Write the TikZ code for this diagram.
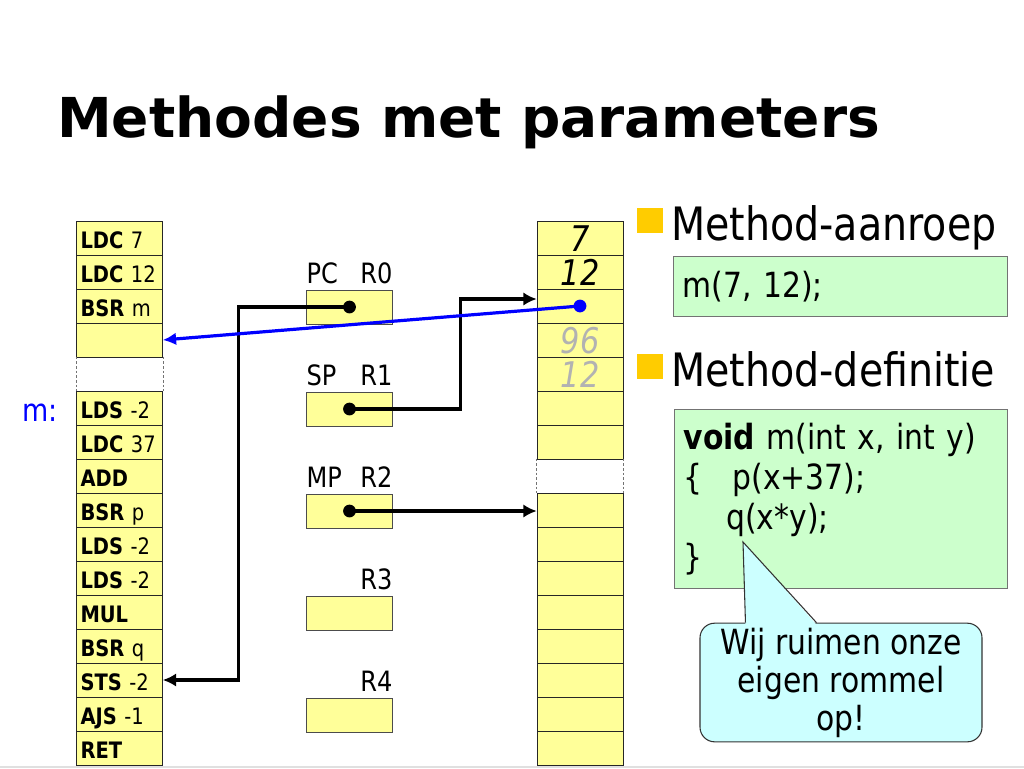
\documentclass[tikz,border=0pt]{standalone}
\usepackage{fontspec}
\setmainfont{DejaVu Sans}[FakeStretch=0.86]
\newfontfamily\titlefont{DejaVu Sans}
\usetikzlibrary{positioning,arrows.meta}
\definecolor{cellyellow}{HTML}{FFFF99}
\definecolor{codegreen}{HTML}{CCFFCC}
\definecolor{notecyan}{HTML}{CCFFFF}
\definecolor{bulletorange}{HTML}{FFCC00}
\definecolor{ptrblue}{HTML}{0000FF}

\begin{document}
\begin{tikzpicture}[x=0.75pt,y=-0.75pt,node distance=25.5pt,on grid,
        cell/.style={draw=black!85,fill=cellyellow,minimum width=64.5pt,minimum height=25.5pt,
            text width=58.5pt,inner xsep=3pt,inner ysep=0pt,align=left,text height=15pt,text depth=0pt,
            font=\fontsize{17}{20}\selectfont},
        gapcell/.style={minimum width=64.5pt,minimum height=25.5pt,inner sep=0pt},
        gapside/.style={draw=black!55,dash pattern=on 2pt off 1.5pt},
        stk/.style={draw=black!85,fill=cellyellow,minimum width=64.5pt,minimum height=25.5pt,inner sep=0pt,
            text height=19.5pt,text depth=0pt,font=\itshape\fontsize{26.5}{27}\selectfont},
        old/.style={stk,text=black!30},
        reg/.style={draw=black!70,fill=cellyellow,minimum width=64.5pt,minimum height=25.5pt},
        reglabel/.style={anchor=south,text width=64.5pt,inner sep=0pt,align=left,font=\fontsize{21}{22}\selectfont},
        ptr/.style={line width=2.8pt,-{Latex[length=10pt,width=10pt]}},
        blueptr/.style={draw=ptrblue,line width=2.4pt,-{Latex[length=10pt,width=9.5pt]}},
        bullet/.style={fill=bulletorange,minimum size=19pt,inner sep=0pt},
        head/.style={anchor=base west,inner sep=0pt,font=\fontsize{34.5}{38}\selectfont},
        code/.style={draw=black!55,fill=codegreen,anchor=north west,align=left,inner xsep=7pt,
            font=\fontsize{26}{30}\selectfont},
        note/.style={draw=black!80,line width=0.8pt,fill=notecyan,rounded corners=11pt,minimum width=211.5pt,
            minimum height=89pt,align=center,font=\fontsize{26}{28.5}\selectfont}]
        \useasboundingbox (0,0) rectangle (1024,768);
        \draw[black!12,line width=1.5pt] (0,767) -- (1024,767);
        \node[anchor=base west,inner sep=0pt,font=\titlefont\bfseries\fontsize{41.25}{45}\selectfont] (title) at (57,137) {Methodes met parameters};

        \node[cell] (ldc7) at (119.5,238) {\textbf{LDC} 7};
        \node[cell,below=of ldc7] (ldc12) {\textbf{LDC} 12};
        \node[cell,below=of ldc12] (bsrm) {\textbf{BSR} m};
        \node[cell,below=of bsrm] (back) {};
        \node[gapcell,below=of back] (gapL) {};
        \node[cell,below=of gapL] (ldsx) {\textbf{LDS} -2};
        \node[cell,below=of ldsx] (ldc37) {\textbf{LDC} 37};
        \node[cell,below=of ldc37] (add) {\textbf{ADD}};
        \node[cell,below=of add] (bsrp) {\textbf{BSR} p};
        \node[cell,below=of bsrp] (ldsy) {\textbf{LDS} -2};
        \node[cell,below=of ldsy] (ldsz) {\textbf{LDS} -2};
        \node[cell,below=of ldsz] (mul) {\textbf{MUL}};
        \node[cell,below=of mul] (bsrq) {\textbf{BSR} q};
        \node[cell,below=of bsrq] (sts) {\textbf{STS} -2};
        \node[cell,below=of sts] (ajs) {\textbf{AJS} -1};
        \node[cell,below=of ajs] (ret) {\textbf{RET}};
        \draw[gapside] (gapL.north west) -- (gapL.south west) (gapL.north east) -- (gapL.south east);
        \node[anchor=base east,inner sep=0pt,text=ptrblue,font=\fontsize{23.5}{26}\selectfont] (mlabel) at (58,421) {m:};

        \node[stk] (s1) at (580,238) {7};
        \node[stk,below=of s1] (s2) {12};
        \node[stk,below=of s2] (s3) {};
        \node[old,below=of s3] (s4) {96};
        \node[old,below=of s4] (s5) {12};
        \node[stk,below=of s5] (s6) {};
        \node[stk,below=of s6] (s7) {};
        \node[gapcell,below=of s7] (gapR) {};
        \node[stk,below=of gapR] (s9) {};
        \node[stk,below=of s9] (s10) {};
        \node[stk,below=of s10] (s11) {};
        \node[stk,below=of s11] (s12) {};
        \node[stk,below=of s12] (s13) {};
        \node[stk,below=of s13] (s14) {};
        \node[stk,below=of s14] (s15) {};
        \node[stk,below=of s15] (s16) {};
        \draw[gapside] (gapR.north west) -- (gapR.south west) (gapR.north east) -- (gapR.south east);

        \node[reg] (r0) at (349.5,307) {};
        \node[reg,below=76.5pt of r0] (r1) {};
        \node[reg,below=76.5pt of r1] (r2) {};
        \node[reg,below=76.5pt of r2] (r3) {};
        \node[reg,below=76.5pt of r3] (r4) {};
        \node[reglabel] (lr0) at ([yshift=4.5pt]r0.north) {PC\hfill R0};
        \node[reglabel] (lr1) at ([yshift=4.5pt]r1.north) {SP\hfill R1};
        \node[reglabel] (lr2) at ([yshift=4.5pt]r2.north) {MP\hfill R2};
        \node[reglabel] (lr3) at ([yshift=4.5pt]r3.north) {\null\hfill R3};
        \node[reglabel] (lr4) at ([yshift=4.5pt]r4.north) {\null\hfill R4};

        \draw[ptr] (r0.center) -- ++(-111,0) |- (sts.east);
        \draw[ptr] (r1.center) -- ++(111,0) |- ([yshift=5.25pt]s3.west);
        \draw[ptr] (r2.center) -- (r2.center -| s9.west);
        \fill (r0.center) circle (4.8pt);
        \fill (r1.center) circle (4.8pt);
        \fill (r2.center) circle (4.8pt);
        \draw[blueptr] (s3.center) -- (back.east);
        \fill[ptrblue] (s3.center) circle (4.8pt);

        \node[bullet] (b1) at (650,220.5) {};
        \node[head] (h1) at (671,240) {Method-aanroep};
        \node[code,minimum width=250.5pt,minimum height=45pt,text width=236.5pt] (call) at (673,256) {m(7, 12);};
        \node[bullet] (b2) at (650,366.5) {};
        \node[head] (h2) at (671,386) {Method-definitie};
        \node[code,minimum width=250pt,minimum height=134.25pt,text width=236pt] (def) at (674,409)
            {\textbf{void} m(int x, int y)\\\makebox[36.75pt][l]{\{}p(x+37);\\\hspace*{32pt}q(x*y);\\\}};

        \node[note] (cloud) at (841,682.5) {Wij ruimen onze\\eigen rommel\\op!};
        \coordinate (tipend) at (743,542);
        \fill[notecyan] ([xshift=34.5pt,yshift=-1.5pt]cloud.north west) -- (tipend) -- ([xshift=87.75pt,yshift=-1.5pt]cloud.north west) -- cycle;
        \draw[black!80,line width=0.8pt] ([xshift=34.5pt]cloud.north west) -- (tipend) -- ([xshift=87.75pt]cloud.north west);
    \end{tikzpicture}
\end{document}
